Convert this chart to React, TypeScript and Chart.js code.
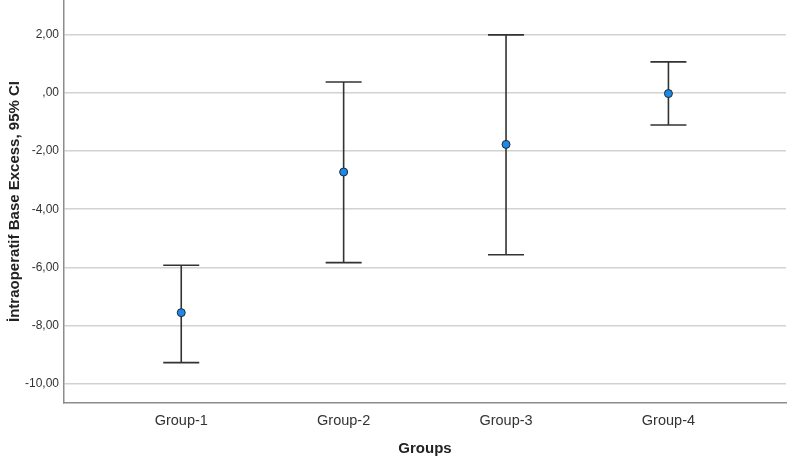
import React, { useEffect, useRef } from "react";
import { Chart, registerables } from "chart.js";

Chart.register(...registerables);

const categories = ["Group-1", "Group-2", "Group-3", "Group-4"];
const means = [-7.56, -2.72, -1.77, -0.02];
const lowerCI = [-9.28, -5.84, -5.57, -1.1];
const upperCI = [-5.93, 0.38, 2.0, 1.07];
const yTicks = [-10, -8, -6, -4, -2, 0, 2];

const FONT = "'Liberation Sans', Arial, sans-serif";

const errorBarPlugin = {
  id: "errorBars",
  beforeDatasetsDraw(chart: any) {
    const { ctx, scales } = chart;
    const xs = scales.x;
    const ys = scales.y;
    ctx.save();
    ctx.strokeStyle = "#333333";
    ctx.lineWidth = 1.6;
    const cap = 18;
    categories.forEach((_, i) => {
      const x = xs.getPixelForValue(i);
      const yl = ys.getPixelForValue(lowerCI[i]);
      const yu = ys.getPixelForValue(upperCI[i]);
      ctx.beginPath();
      ctx.moveTo(x, yu);
      ctx.lineTo(x, yl);
      ctx.moveTo(x - cap, yu);
      ctx.lineTo(x + cap, yu);
      ctx.moveTo(x - cap, yl);
      ctx.lineTo(x + cap, yl);
      ctx.stroke();
    });
    ctx.restore();
  },
};

export default function App() {
  const ref = useRef<HTMLCanvasElement | null>(null);
  useEffect(() => {
    document.body.style.margin = "0";
    const canvas = ref.current!;
    const chart = new Chart(canvas, {
      type: "scatter",
      data: {
        datasets: [
          {
            data: means.map((m, i) => ({ x: i, y: m })),
            backgroundColor: "#1e88e5",
            borderColor: "#1a2a3a",
            borderWidth: 1,
            pointRadius: 4,
          },
        ],
      },
      options: {
        animation: false,
        responsive: false,
        maintainAspectRatio: false,
        layout: { padding: 0 },
        plugins: { legend: { display: false }, tooltip: { enabled: false } },
        scales: {
          x: {
            type: "linear",
            min: -0.722,
            max: 3.724,
            afterBuildTicks: (s: any) => {
              s.ticks = categories.map((_, i) => ({ value: i }));
            },
            afterFit: (s: any) => {
              s.height = 55;
              s.paddingLeft = 0;
              s.paddingRight = 0;
            },
            grid: { display: false },
            border: { display: true, color: "#8c8c8c", width: 1.5 },
            ticks: {
              callback: (v: any) => categories[v as number] ?? "",
              color: "#333333",
              font: { family: FONT, size: 14.5 },
              padding: 1,
              maxRotation: 0,
            },
            title: {
              display: true,
              text: "Groups",
              color: "#222222",
              font: { family: FONT, size: 15, weight: "bold" },
              padding: { top: 0, bottom: 0 },
            },
          },
          y: {
            min: -10.67,
            max: 3.2,
            afterBuildTicks: (s: any) => {
              s.ticks = yTicks.map((v) => ({ value: v }));
            },
            afterFit: (s: any) => {
              s.width = 64;
              s.paddingTop = 0;
              s.paddingBottom = 0;
            },
            grid: { color: "#d2d2d2", lineWidth: 1.5, drawTicks: false },
            border: { display: true, color: "#8c8c8c", width: 1.5 },
            ticks: {
              callback: (v: any) =>
                v === 0 ? ",00" : (v as number).toFixed(2).replace(".", ","),
              color: "#333333",
              font: { family: FONT, size: 12 },
              padding: 5,
            },
            title: {
              display: true,
              text: "İntraoperatif Base Excess, 95% CI",
              color: "#222222",
              font: { family: FONT, size: 15, weight: "bold" },
              padding: { top: 6, bottom: 0 },
            },
          },
        },
      },
      plugins: [errorBarPlugin],
    });
    return () => chart.destroy();
  }, []);
  return (
    <div
      style={{
        width: 787,
        height: 458,
        background: "#fff",
        position: "relative",
        overflow: "hidden",
      }}
    >
      <canvas
        ref={ref}
        width={791}
        height={463}
        style={{ display: "block", position: "absolute", left: 0, top: -5 }}
      />
    </div>
  );
}
